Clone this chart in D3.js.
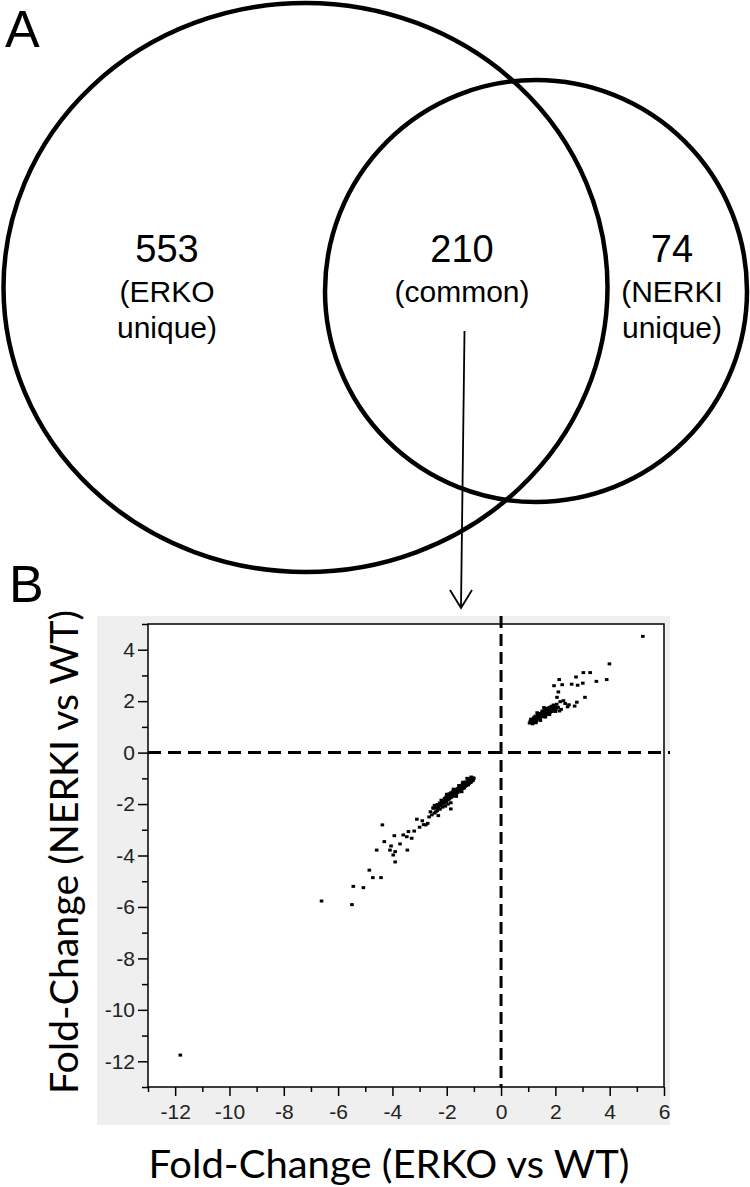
<!DOCTYPE html>
<html>
<head>
<meta charset="utf-8">
<script src="https://cdn.jsdelivr.net/npm/d3@7"></script>
<style>
  html, body { margin: 0; padding: 0; background: #fff; }
  svg { display: block; }
</style>
</head>
<body>
<svg id="chart" width="750" height="1187"></svg>
<script>
// ---------------- DATA ----------------
const vennCounts = ["553", "210", "74"];
const vennSubLabels = [["(ERKO", "unique)"], ["(common)"], ["(NERKI", "unique)"]];
const panelLabels = ["A", "B"];

const xTickMajor = [-12, -10, -8, -6, -4, -2, 0, 2, 4, 6];
const xTickMinor = [-13, -11, -9, -7, -5, -3, -1, 1, 3, 5];
const yTickMajor = [4, 2, 0, -2, -4, -6, -8, -10, -12];
const yTickMinor = [5, 3, 1, -1, -3, -5, -7, -9, -11, -13];

const xTitle = "Fold-Change (ERKO vs WT)";
const yTitle = "Fold-Change (NERKI vs WT)";

// up-regulated, dense cluster (ERKO FC, NERKI FC)
const upDenseX = [1.05,1.08,1.12,1.15,1.18,1.20,1.22,1.25,1.27,1.30,1.32,1.35,1.37,1.40,1.42,1.44,1.47,1.50,1.52,1.55,1.57,1.60,1.62,1.64,1.67,1.70,1.72,1.74,1.77,1.80,1.82,1.85,1.87,1.90,1.93,1.95,1.98,2.02,2.05,2.10,1.16,1.28,1.45,1.62,1.78,2.00,2.15,1.10,1.33,1.58,1.13,1.24,1.38,1.52,1.68,1.84,1.97];
const upDenseY = [1.15,1.22,1.18,1.28,1.20,1.35,1.25,1.30,1.42,1.22,1.36,1.45,1.30,1.40,1.52,1.34,1.46,1.55,1.40,1.60,1.48,1.52,1.65,1.42,1.58,1.70,1.50,1.62,1.75,1.56,1.68,1.80,1.60,1.72,1.85,1.65,1.78,1.70,1.88,1.76,1.12,1.16,1.25,1.38,1.48,1.60,1.62,1.30,1.55,1.75,1.24,1.38,1.50,1.62,1.72,1.66,1.82];
// up-regulated, scattered
const upSparseX = [5.22,3.99,3.89,3.51,3.03,3.28,2.76,3.01,2.82,2.60,2.14,1.95,2.25,2.11,2.06,3.09,2.79,2.71,2.36,2.21,2.30,2.45,2.18,2.50];
const upSparseY = [4.52,3.45,2.84,2.77,3.11,3.11,2.94,2.70,2.62,2.66,2.84,2.60,2.64,2.36,2.15,2.15,1.96,1.81,1.91,1.68,2.02,1.78,1.98,1.86];
// down-regulated, dense band
const downDenseX = [-1.00,-1.03,-1.03,-1.06,-1.09,-1.12,-1.12,-1.15,-1.18,-1.21,-1.21,-1.24,-1.27,-1.30,-1.30,-1.33,-1.36,-1.36,-1.39,-1.42,-1.42,-1.45,-1.48,-1.48,-1.51,-1.54,-1.54,-1.57,-1.60,-1.60,-1.63,-1.66,-1.66,-1.69,-1.72,-1.72,-1.75,-1.78,-1.78,-1.81,-1.84,-1.84,-1.87,-1.90,-1.90,-1.93,-1.96,-1.96,-1.99,-2.02,-2.02,-2.05,-2.08,-2.08,-2.11,-2.14,-2.18,-2.22,-2.26,-2.30,-2.34,-2.38,-1.08,-1.26,-1.44,-1.62,-1.80,-1.98,-2.16,-1.17,-1.35,-1.53,-1.71,-1.89,-1.95,-2.05,-2.15,-2.25,-1.85,-2.35,-2.20,-2.00,-1.75,-1.55,-1.40,-1.25,-1.10,-1.45,-1.65,-2.40,-2.50,-2.45];
const downDenseY = [-1.00,-1.08,-0.98,-1.05,-1.12,-1.02,-1.16,-1.10,-1.20,-1.08,-1.25,-1.17,-1.28,-1.14,-1.22,-1.32,-1.24,-1.38,-1.30,-1.40,-1.22,-1.34,-1.46,-1.30,-1.40,-1.50,-1.34,-1.44,-1.56,-1.40,-1.48,-1.60,-1.44,-1.52,-1.64,-1.48,-1.56,-1.70,-1.52,-1.60,-1.74,-1.56,-1.66,-1.80,-1.60,-1.70,-1.84,-1.66,-1.76,-1.90,-1.72,-1.80,-1.96,-1.78,-1.86,-2.00,-1.90,-2.06,-1.96,-2.10,-2.02,-2.14,-1.04,-1.20,-1.36,-1.50,-1.64,-1.80,-1.94,-1.13,-1.28,-1.44,-1.58,-1.70,-2.00,-2.08,-2.12,-2.20,-1.95,-2.25,-1.85,-1.62,-1.42,-1.28,-1.15,-1.00,-0.95,-1.52,-1.70,-2.30,-2.15,-2.05];
// down-regulated, scattered
const downSparseX = [-2.31,-2.49,-1.85,-2.55,-2.77,-2.70,-2.85,-2.90,-3.10,-2.60,-2.45,-3.41,-3.47,-3.93,-3.29,-3.20,-3.72,-4.05,-4.09,-3.90,-3.97,-4.30,-4.58,-3.45,-3.90,-4.37,-4.85,-4.72,-4.42,-5.44,-5.07,-6.61,-5.49,-11.81,-3.00,-3.60,-2.65];
const downSparseY = [-2.45,-2.16,-2.19,-2.42,-2.81,-2.75,-2.80,-2.65,-2.59,-2.30,-2.35,-3.07,-3.27,-3.23,-3.33,-3.05,-3.55,-3.63,-3.79,-3.85,-3.98,-3.46,-3.79,-3.79,-4.25,-2.81,-4.57,-4.86,-4.86,-5.20,-5.25,-5.77,-5.91,-11.76,-2.90,-3.20,-2.50];

// ---------------- DRAW ----------------
const svg = d3.select("#chart");
const vennFont = "'Liberation Sans', Arial, sans-serif";
const titleFont = "Lato, 'Open Sans', sans-serif";

// Panel A: Venn diagram
const venn = svg.append("g");
venn.append("ellipse")
  .attr("cx", 305.5).attr("cy", 287.5).attr("rx", 302).attr("ry", 284.5)
  .attr("fill", "none").attr("stroke", "#000").attr("stroke-width", 4.5);
venn.append("circle")
  .attr("cx", 536).attr("cy", 291).attr("r", 211)
  .attr("fill", "none").attr("stroke", "#000").attr("stroke-width", 4.5);

const vennX = [167, 462, 672];
vennCounts.forEach((c, i) => {
  venn.append("text")
    .attr("x", vennX[i]).attr("y", 262)
    .attr("text-anchor", "middle")
    .attr("font-family", vennFont).attr("font-size", 38)
    .text(c);
  vennSubLabels[i].forEach((s, j) => {
    venn.append("text")
      .attr("x", vennX[i]).attr("y", 302 + j * 36)
      .attr("text-anchor", "middle")
      .attr("font-family", vennFont).attr("font-size", 30)
      .text(s);
  });
});

// arrow from common region to scatter plot
venn.append("line")
  .attr("x1", 464.5).attr("y1", 331).attr("x2", 461).attr("y2", 607)
  .attr("stroke", "#000").attr("stroke-width", 1.8);
venn.append("path")
  .attr("d", "M450,590 L461,608 L472,590")
  .attr("fill", "none").attr("stroke", "#000").attr("stroke-width", 1.8);

// panel labels
svg.append("text").attr("x", 5).attr("y", 47)
  .attr("font-family", vennFont).attr("font-size", 52).text(panelLabels[0]);
svg.append("text").attr("x", 9).attr("y", 602)
  .attr("font-family", vennFont).attr("font-size", 52).text(panelLabels[1]);

// Panel B: scatter
const x = d3.scaleLinear().domain([-13, 6]).range([148, 664]);
const y = d3.scaleLinear().domain([5, -13]).range([624, 1087]);

svg.append("rect")
  .attr("x", 97).attr("y", 616).attr("width", 573).attr("height", 509)
  .attr("fill", "#efefef");
svg.append("rect")
  .attr("x", x(-13)).attr("y", y(5))
  .attr("width", x(6) - x(-13)).attr("height", y(-13) - y(5))
  .attr("fill", "#fff").attr("stroke", "#000").attr("stroke-width", 1.5);

const tickFont = "'Liberation Sans', Arial, sans-serif";
function styleAxis(g) {
  g.select(".domain").remove();
  g.selectAll(".tick line").attr("stroke", "#000").attr("stroke-width", 1.5);
  g.selectAll(".tick text").attr("font-family", tickFont).attr("font-size", 21).attr("fill", "#222");
}
// x axis
svg.append("g").attr("transform", `translate(0,${y(-13)})`)
  .call(d3.axisBottom(x).tickValues(xTickMajor).tickFormat(d => String(d)).tickSize(9).tickPadding(8))
  .call(styleAxis);
svg.append("g").attr("transform", `translate(0,${y(-13)})`)
  .call(d3.axisBottom(x).tickValues(xTickMinor).tickFormat("").tickSize(5))
  .call(styleAxis);
// y axis
svg.append("g").attr("transform", `translate(${x(-13)},0)`)
  .call(d3.axisLeft(y).tickValues(yTickMajor).tickFormat(d => String(d)).tickSize(10).tickPadding(3))
  .call(styleAxis);
svg.append("g").attr("transform", `translate(${x(-13)},0)`)
  .call(d3.axisLeft(y).tickValues(yTickMinor).tickFormat("").tickSize(6))
  .call(styleAxis);

// dashed zero lines
svg.append("line")
  .attr("x1", x(-13)).attr("x2", 670).attr("y1", y(0)).attr("y2", y(0))
  .attr("stroke", "#000").attr("stroke-width", 3).attr("stroke-dasharray", "13,7");
svg.append("line")
  .attr("x1", x(0)).attr("x2", x(0)).attr("y1", 616).attr("y2", y(-13))
  .attr("stroke", "#000").attr("stroke-width", 3).attr("stroke-dasharray", "12,6");

// points
const groups = [[upDenseX, upDenseY], [upSparseX, upSparseY], [downDenseX, downDenseY], [downSparseX, downSparseY]];
const pts = [];
groups.forEach(([gx, gy]) => gx.forEach((v, i) => pts.push([v, gy[i]])));
svg.append("g").selectAll("rect").data(pts).join("rect")
  .attr("x", d => x(d[0]) - 1.8).attr("y", d => y(d[1]) - 1.5)
  .attr("width", 3.6).attr("height", 3)
  .attr("fill", "#000");

// axis titles
svg.append("text")
  .attr("x", 389).attr("y", 1178).attr("text-anchor", "middle")
  .attr("font-family", titleFont).attr("font-size", 38)
  .attr("textLength", 481).attr("lengthAdjust", "spacingAndGlyphs")
  .text(xTitle);
svg.append("text")
  .attr("transform", "translate(78,852) rotate(-90)")
  .attr("text-anchor", "middle")
  .attr("font-family", titleFont).attr("font-size", 38)
  .attr("textLength", 484).attr("lengthAdjust", "spacingAndGlyphs")
  .text(yTitle);
</script>
</body>
</html>
